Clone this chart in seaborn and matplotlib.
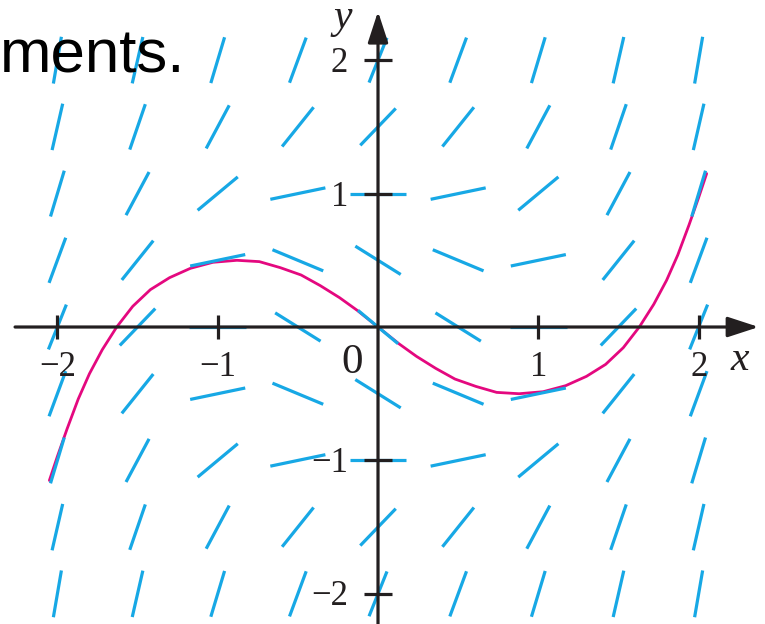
import numpy as np
import pandas as pd
import matplotlib
matplotlib.use("Agg")
import matplotlib.pyplot as plt
import seaborn as sns

# Direction field for y' = x^2 + y^2 - 1 on a half-unit grid
grid_x = [-2.0, -1.5, -1.0, -0.5, 0.0, 0.5, 1.0, 1.5, 2.0]
grid_y = [-2.0, -1.5, -1.0, -0.5, 0.0, 0.5, 1.0, 1.5, 2.0]
# slope at (grid_x[j], grid_y[i]) is slopes[i][j]
slopes = [
    [7.00, 5.25, 4.00, 3.25, 3.00, 3.25, 4.00, 5.25, 7.00],
    [5.25, 3.50, 2.25, 1.50, 1.25, 1.50, 2.25, 3.50, 5.25],
    [4.00, 2.25, 1.00, 0.25, 0.00, 0.25, 1.00, 2.25, 4.00],
    [3.25, 1.50, 0.25, -0.50, -0.75, -0.50, 0.25, 1.50, 3.25],
    [3.00, 1.25, 0.00, -0.75, -1.00, -0.75, 0.00, 1.25, 3.00],
    [3.25, 1.50, 0.25, -0.50, -0.75, -0.50, 0.25, 1.50, 3.25],
    [4.00, 2.25, 1.00, 0.25, 0.00, 0.25, 1.00, 2.25, 4.00],
    [5.25, 3.50, 2.25, 1.50, 1.25, 1.50, 2.25, 3.50, 5.25],
    [7.00, 5.25, 4.00, 3.25, 3.00, 3.25, 4.00, 5.25, 7.00],
]

# Solution curve through the origin
curve_x = [-2.05, -2.00, -1.94, -1.87, -1.80, -1.72, -1.63, -1.53, -1.42, -1.30,
           -1.17, -1.03, -0.88, -0.74, -0.61, -0.48, -0.36, -0.24, -0.13, 0.00,
           0.13, 0.24, 0.36, 0.48, 0.61, 0.74, 0.88, 1.03, 1.17, 1.30,
           1.42, 1.53, 1.63, 1.72, 1.80, 1.87, 1.94, 2.00, 2.05]
curve_y = [-1.15, -0.97, -0.765, -0.54, -0.35, -0.17, 0.00, 0.155, 0.28, 0.37,
           0.44, 0.485, 0.50, 0.49, 0.445, 0.39, 0.31, 0.22, 0.125, 0.00,
           -0.125, -0.22, -0.31, -0.39, -0.445, -0.49, -0.50, -0.485, -0.44, -0.37,
           -0.28, -0.155, 0.00, 0.17, 0.35, 0.54, 0.765, 0.97, 1.15]

x_ticks = [-2, -1, 1, 2]
x_tick_labels = ["\u22122", "\u22121", "1", "2"]
y_ticks = [-2, -1, 1, 2]
y_tick_labels = ["\u22122", "\u22121", "1", "2"]

BLUE = "#17a8e5"
MAGENTA = "#e4087f"
INK = "#231f20"

sns.set_style("white")
plt.rcParams["font.family"] = ["Liberation Serif", "DejaVu Serif"]

fig = plt.figure(figsize=(7.65, 6.24), dpi=100)
ax = fig.add_axes([0, 0, 1, 1])
XLIM = (-2.358, 2.414)
YLIM = (-2.226, 2.451)

# build the short slope segments (fixed length, centred on each grid point)
seg_len = 0.354
rows = []
seg_id = 0
for i, gy in enumerate(grid_y):
    for j, gx in enumerate(grid_x):
        m = slopes[i][j]
        dx = 0.5 * seg_len / np.sqrt(1.0 + m * m)
        dy = m * dx
        rows.append({"seg": seg_id, "x": gx - dx, "y": gy - dy})
        rows.append({"seg": seg_id, "x": gx + dx, "y": gy + dy})
        seg_id += 1
field = pd.DataFrame(rows)

curve = pd.DataFrame({"x": curve_x, "y": curve_y})
sns.lineplot(data=curve, x="x", y="y", sort=False, estimator=None,
             color=MAGENTA, lw=2.0, ax=ax, zorder=1)

sns.lineplot(data=field, x="x", y="y", units="seg", estimator=None, sort=False,
             color=BLUE, lw=2.3, ax=ax, zorder=2, solid_capstyle="butt")
ax.set_xlabel("")
ax.set_ylabel("")
ax.set_xlim(*XLIM)
ax.set_ylim(*YLIM)
ax.axis("off")

# axes with arrowheads
arrow = dict(arrowstyle="-|>,head_length=1.9,head_width=0.62", mutation_scale=10,
             lw=2.3, color=INK, shrinkA=0, shrinkB=0)
ax.annotate("", xy=(2.375, 0), xytext=(-2.264, 0), arrowprops=arrow, zorder=3)
ax.annotate("", xy=(0, 2.365), xytext=(0, -2.40), arrowprops=arrow, zorder=3,
            annotation_clip=False)

tick = 0.087
for xt in x_ticks:
    ax.plot([xt, xt], [-tick, tick], color=INK, lw=2.3, zorder=3,
            solid_capstyle="butt")
for yt in y_ticks:
    ax.plot([-tick, tick], [yt, yt], color=INK, lw=2.3, zorder=3,
            solid_capstyle="butt")

for xt, lab in zip(x_ticks, x_tick_labels):
    ax.text(xt, -0.365, lab, ha="center", va="baseline", fontsize=25,
            color=INK, zorder=4)
y_label_base = {2: 1.913, 1: 0.907, -1: -1.085, -2: -2.084}
for yt, lab in zip(y_ticks, y_tick_labels):
    ax.text(-0.187, y_label_base[yt], lab, ha="right", va="baseline",
            fontsize=25, color=INK, zorder=4)

ax.text(-0.164, -0.343, "0", ha="center", va="baseline", fontsize=31,
        color=INK, zorder=4)
ax.text(2.258, -0.322, "x", ha="center", va="baseline", fontsize=30,
        style="italic", color=INK, zorder=4)
ax.text(-0.218, 2.241, "y", ha="center", va="baseline", fontsize=30,
        style="italic", color=INK, zorder=4)

# end of the sentence from the surrounding page
ax.text(-2.358, 1.906, "ments.", ha="left", va="baseline", fontsize=44.5,
        family=["Liberation Sans", "DejaVu Sans"], color="black", zorder=5)

fig.savefig("out.png", dpi=100)
